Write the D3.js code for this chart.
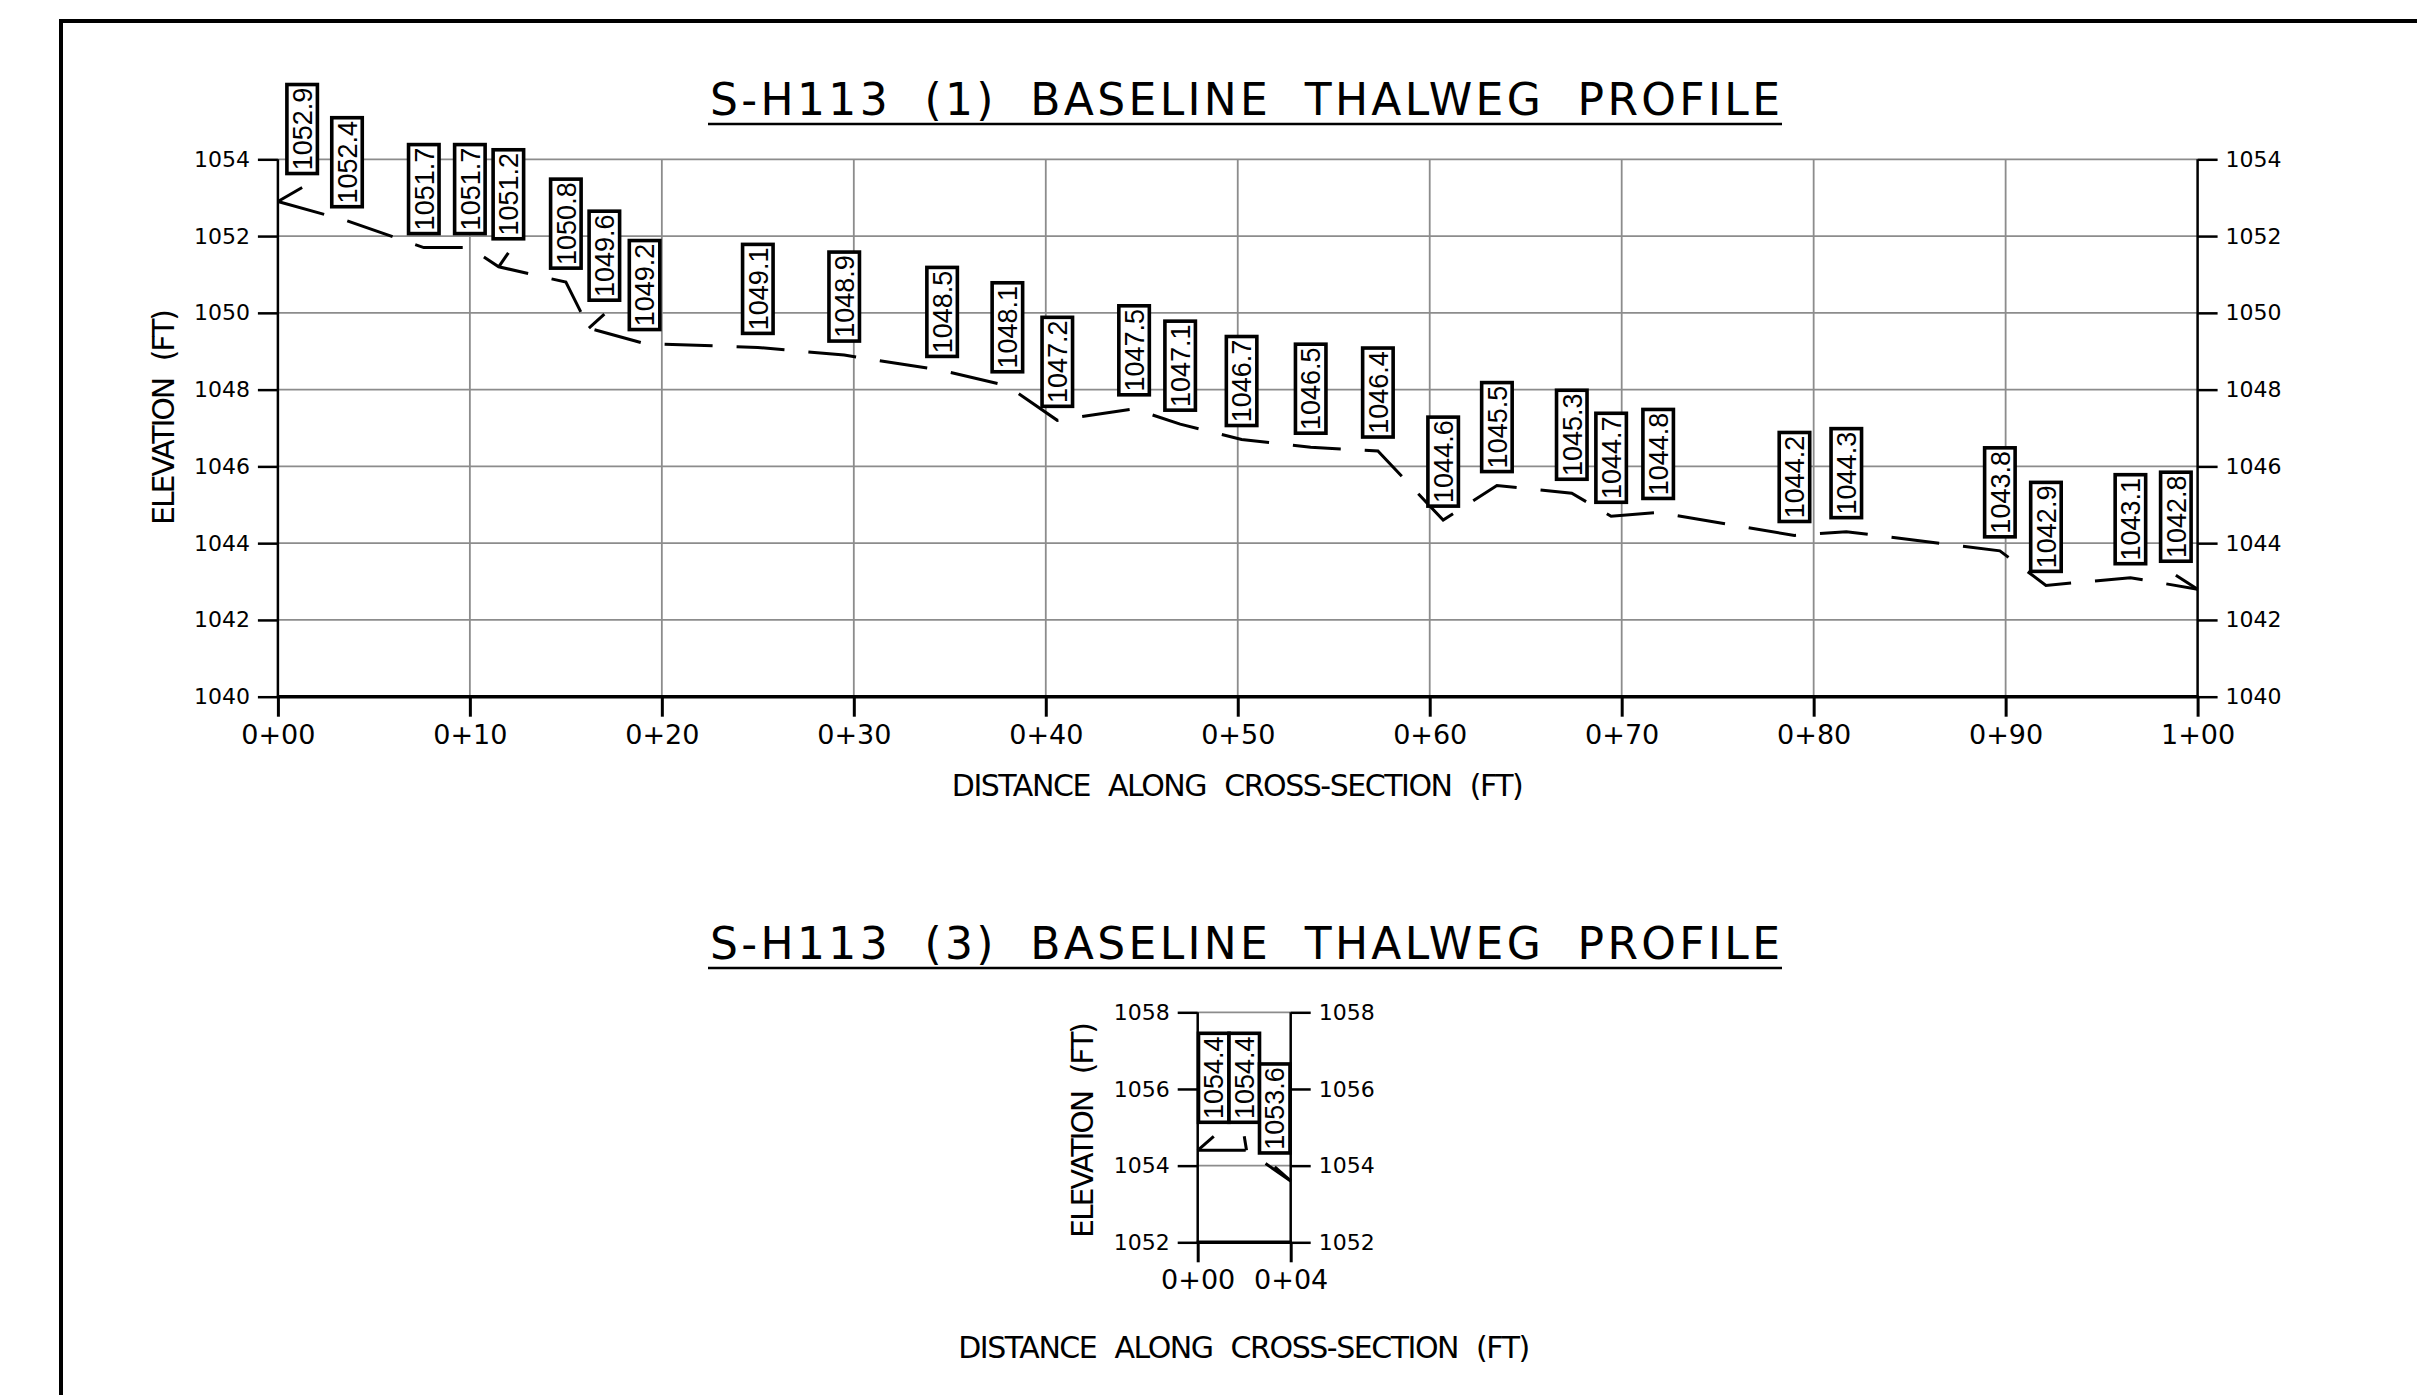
<!DOCTYPE html>
<html>
<head>
<meta charset="utf-8">
<script src="https://cdn.jsdelivr.net/npm/d3@7"></script>
<style>
  html, body { margin: 0; padding: 0; background: #fff; overflow: hidden; }
  svg { display: block; }
  .cad { font-family: "DejaVu Sans", sans-serif; font-weight: 400; fill: #000; }
  .lbl { font-family: "Liberation Sans", Arial, sans-serif; fill: #000; }
</style>
</head>
<body>
<svg id="sheet" width="2417" height="1395"></svg>
<script>
// profile (1): station (ft) and thalweg elevation (ft)
const stations1 = [0, 3.6, 7.6, 10.0, 11.5, 15.0, 16.2, 19.1, 25.0, 29.5, 34.6, 38.0, 40.6, 44.6,
  47.0, 50.2, 53.8, 57.3, 60.7, 63.5, 67.4, 69.45, 71.9, 79.0, 81.7, 89.7, 92.1, 96.5, 100]
const elevations1 = [1052.9, 1052.4, 1051.7, 1051.7, 1051.2, 1050.8, 1049.6, 1049.2, 1049.1, 1048.9,
  1048.5, 1048.1, 1047.2, 1047.5, 1047.1, 1046.7, 1046.5, 1046.4, 1044.6, 1045.5, 1045.3, 1044.7,
  1044.8, 1044.2, 1044.3, 1043.8, 1042.9, 1043.1, 1042.8]
const stationTicks1 = [0, 10, 20, 30, 40, 50, 60, 70, 80, 90, 100]
const elevTicks1 = [1040, 1042, 1044, 1046, 1048, 1050, 1052, 1054]

// profile (3)
const stations3 = [0, 2.1, 4]
const elevations3 = [1054.4, 1054.4, 1053.6]
const stationTicks3 = [0, 4]
const elevTicks3 = [1052, 1054, 1056, 1058]

const title1 = "S-H113 (1) BASELINE THALWEG PROFILE"
const title3 = "S-H113 (3) BASELINE THALWEG PROFILE"
const xTitle = "DISTANCE ALONG CROSS-SECTION (FT)"
const yTitle = "ELEVATION (FT)"

const svg = d3.select("#sheet")
const GRID = "#8c8c8c"
const boxW = 30.5, boxH = 89, rise = 14

const fmtStation = d => `${Math.floor(d / 100)}+${String(d % 100).padStart(2, "0")}`

// sheet border
svg.append("path")
  .attr("d", "M61,1395V21H2417")
  .attr("fill", "none")
  .attr("stroke", "#000")
  .attr("stroke-width", 4)

function drawProfile(o) {
  const g = svg.append("g")
  const x = d3.scaleLinear().domain(d3.extent(o.stationTicks)).range([o.left, o.right])
  const y = d3.scaleLinear().domain(d3.extent(o.elevTicks)).range([o.bottom, o.top])

  // title + underline
  g.append("text").attr("class", "cad")
    .attr("x", 1245).attr("y", o.titleY)
    .attr("text-anchor", "middle")
    .attr("font-size", 44)
    .attr("word-spacing", 16)
    .attr("textLength", 1070).attr("lengthAdjust", "spacing")
    .text(o.title)
  g.append("line")
    .attr("x1", 1245 - 537).attr("x2", 1245 + 537)
    .attr("y1", o.titleY + 9).attr("y2", o.titleY + 9)
    .attr("stroke", "#000").attr("stroke-width", 2.5)

  // grid
  const grid = g.append("g").attr("stroke", GRID).attr("stroke-width", 1.8)
  grid.selectAll(".vg").data(o.stationTicks.slice(1, -1)).join("line")
    .attr("x1", d => x(d)).attr("x2", d => x(d))
    .attr("y1", o.top).attr("y2", o.bottom)
  grid.selectAll(".hg").data(o.elevTicks.slice(1)).join("line")
    .attr("x1", o.left).attr("x2", o.right)
    .attr("y1", d => y(d)).attr("y2", d => y(d))

  // axes
  const styleAxis = (sel, size, w) => {
    sel.select(".domain").remove()
    sel.selectAll(".tick line").attr("stroke", "#000").attr("stroke-width", w)
    sel.selectAll(".tick text").attr("class", "cad").attr("font-size", size)
  }
  g.append("g").attr("transform", `translate(${o.left},0)`)
    .call(d3.axisLeft(y).tickValues(o.elevTicks).tickSize(20).tickPadding(8).tickFormat(d3.format("d")))
    .call(styleAxis, 22, 2.5)
  g.append("g").attr("transform", `translate(${o.right},0)`)
    .call(d3.axisRight(y).tickValues(o.elevTicks).tickSize(20).tickPadding(8).tickFormat(d3.format("d")))
    .call(styleAxis, 22, 2.5)
  g.append("g").attr("transform", `translate(0,${o.bottom})`)
    .call(d3.axisBottom(x).tickValues(o.stationTicks).tickSize(20).tickPadding(8).tickFormat(fmtStation))
    .call(styleAxis, 27, 3)

  const frame = g.append("g").attr("stroke", "#000")
  frame.append("line").attr("x1", o.left).attr("x2", o.left).attr("y1", o.top).attr("y2", o.bottom).attr("stroke-width", 2.5)
  frame.append("line").attr("x1", o.right).attr("x2", o.right).attr("y1", o.top).attr("y2", o.bottom).attr("stroke-width", 2.5)
  frame.append("line").attr("x1", o.left - 1).attr("x2", o.right + 1).attr("y1", o.bottom).attr("y2", o.bottom).attr("stroke-width", 3.5)

  // axis titles
  g.append("text").attr("class", "cad")
    .attr("x", (o.left + o.right) / 2).attr("y", o.xTitleY)
    .attr("text-anchor", "middle").attr("font-size", 30)
    .attr("word-spacing", 10)
    .attr("textLength", 572).attr("lengthAdjust", "spacing")
    .text(xTitle)
  g.append("text").attr("class", "cad")
    .attr("transform", `translate(${o.yTitleX},${o.yTitleY}) rotate(-90)`)
    .attr("text-anchor", "middle").attr("font-size", 30)
    .attr("word-spacing", 10)
    .attr("textLength", 216).attr("lengthAdjust", "spacing")
    .text(yTitle)

  // thalweg line
  const pts = o.stations.map((s, i) => ({ s, e: o.elevations[i] }))
  g.append("path")
    .datum(pts)
    .attr("fill", "none")
    .attr("stroke", "#000")
    .attr("stroke-width", 3)
    .attr("stroke-dasharray", "48 24")
    .attr("d", d3.line().x(d => x(d.s)).y(d => y(d.e)))

  // label layout: centre on point, push apart, keep inside the frame
  pts.forEach(p => { p.px = x(p.s); p.py = y(p.e); p.bx = p.px - boxW / 2 })
  pts.forEach((p, i) => {
    let lo = o.left + o.padL
    if (i > 0) lo = Math.max(lo, pts[i - 1].bx + boxW + o.gap)
    p.bx = Math.max(p.bx, lo)
  })
  for (let i = pts.length - 1; i >= 0; i--) {
    const p = pts[i]
    let hi = o.right - o.padR - boxW
    if (i < pts.length - 1) hi = Math.min(hi, pts[i + 1].bx - boxW - o.gap)
    p.bx = Math.min(p.bx, hi)
  }
  pts.forEach(p => {
    p.cx = p.bx + boxW / 2
    p.moved = Math.abs(p.cx - p.px) > 1
    p.ay = p.py - (p.moved ? rise : 0)
    p.by = p.ay - 14
  })

  g.append("g").attr("stroke", "#000").attr("stroke-width", 3)
    .selectAll("line").data(pts.filter(p => p.moved)).join("line")
    .attr("x1", d => d.px).attr("y1", d => d.py)
    .attr("x2", d => d.cx).attr("y2", d => d.ay)

  const lab = g.append("g").selectAll("g").data(pts).join("g")
  lab.append("rect")
    .attr("x", d => d.bx).attr("y", d => d.by - boxH)
    .attr("width", boxW).attr("height", boxH)
    .attr("fill", "#fff").attr("stroke", "#000").attr("stroke-width", 3.6)
  lab.append("text").attr("class", "lbl")
    .attr("transform", d => `translate(${d.cx},${d.by - boxH / 2}) rotate(-90)`)
    .attr("text-anchor", "middle").attr("dy", "0.36em")
    .attr("font-size", 27)
    .text(d => d.e.toFixed(1))
}

drawProfile({
  stations: stations1, elevations: elevations1,
  stationTicks: stationTicks1, elevTicks: elevTicks1, title: title1,
  left: 277.9, right: 2197.6, top: 159.3, bottom: 696.7,
  titleY: 115, xTitleY: 796, yTitleX: 173.5, yTitleY: 417,
  padL: 9, padR: 6.5, gap: 8
})

drawProfile({
  stations: stations3, elevations: elevations3,
  stationTicks: stationTicks3, elevTicks: elevTicks3, title: title3,
  left: 1197.7, right: 1290.7, top: 1012.3, bottom: 1242.3,
  titleY: 959, xTitleY: 1358, yTitleX: 1093, yTitleY: 1130,
  padL: 1.5, padR: 0.7, gap: 0
})
</script>
</body>
</html>
